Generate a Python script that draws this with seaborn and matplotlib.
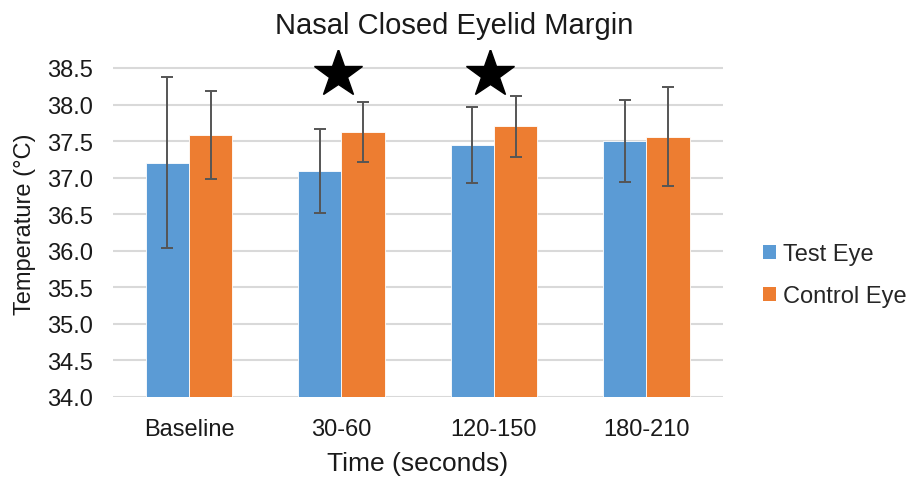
import matplotlib
matplotlib.use("Agg")
import matplotlib.pyplot as plt
import seaborn as sns
import pandas as pd
import numpy as np

categories = ["Baseline", "30-60", "120-150", "180-210"]
series = ["Test Eye", "Control Eye"]
test_means = [37.20, 37.09, 37.44, 37.50]
test_err = [1.17, 0.58, 0.52, 0.565]
control_means = [37.58, 37.62, 37.70, 37.56]
control_err = [0.60, 0.41, 0.42, 0.675]
star_categories = ["30-60", "120-150"]
star_level = 38.42
y_ticks = [34.0, 34.5, 35.0, 35.5, 36.0, 36.5, 37.0, 37.5, 38.0, 38.5]

colors = ["#5B9BD5", "#ED7D31"]

df = pd.DataFrame({
    "Time": categories * 2,
    "Series": [series[0]] * 4 + [series[1]] * 4,
    "Temp": test_means + control_means,
})

sns.set_theme(style="white")
plt.rcParams["font.family"] = ["Liberation Sans", "DejaVu Sans"]

fig = plt.figure(figsize=(9.09, 4.81), dpi=100)
ax = fig.add_axes([0.124, 0.173, 0.671, 0.7216])

sns.barplot(data=df, x="Time", y="Temp", hue="Series", order=categories,
            hue_order=series, palette=colors, saturation=1, width=0.568,
            errorbar=None, edgecolor="white", linewidth=0.6, ax=ax, zorder=2)

errs = [test_err, control_err]
for cont, err in zip(ax.containers, errs):
    xs = [p.get_x() + p.get_width() / 2 for p in cont.patches]
    hs = [p.get_height() + p.get_y() for p in cont.patches]
    ax.errorbar(xs, hs, yerr=err, fmt="none", ecolor="#555555",
                elinewidth=1.4, capsize=4.3, capthick=1.4, zorder=3)

star_x = [categories.index(c) - 0.025 for c in star_categories]
ax.plot(star_x, [star_level] * len(star_x), linestyle="none", marker="*",
        markersize=36, color="black", zorder=4)

ax.set_ylim(34.0, 38.75)
ax.set_xlim(-0.5, 3.5)
ax.set_yticks(y_ticks)
ax.set_yticklabels([f"{v:.1f}" for v in y_ticks])
ax.yaxis.grid(True, color="#D9D9D9", linewidth=1.5, zorder=0)
ax.set_axisbelow(True)
for s in ax.spines.values():
    s.set_visible(False)
ax.tick_params(axis="both", length=0, labelsize=17, colors="#1a1a1a")
ax.tick_params(axis="x", pad=15)
ax.tick_params(axis="y", pad=14)

ax.set_xlabel("Time (seconds)", fontsize=19, color="#1a1a1a", labelpad=8)
ax.set_ylabel("Temperature (°C)", fontsize=17, color="#1a1a1a", labelpad=8)
ax.set_title("Nasal Closed Eyelid Margin", fontsize=21, color="#1a1a1a",
             x=0.5603, pad=12)

leg = ax.legend(loc="center left", bbox_to_anchor=(0.8394, 0.426),
                bbox_transform=fig.transFigure, frameon=False, borderpad=0,
                borderaxespad=0, fontsize=17, handlelength=0.54,
                handleheight=0.54, handletextpad=0.3, labelspacing=0.85)
for h in leg.legend_handles:
    h.set_edgecolor("none")

fig.savefig("out.png", dpi=100)
